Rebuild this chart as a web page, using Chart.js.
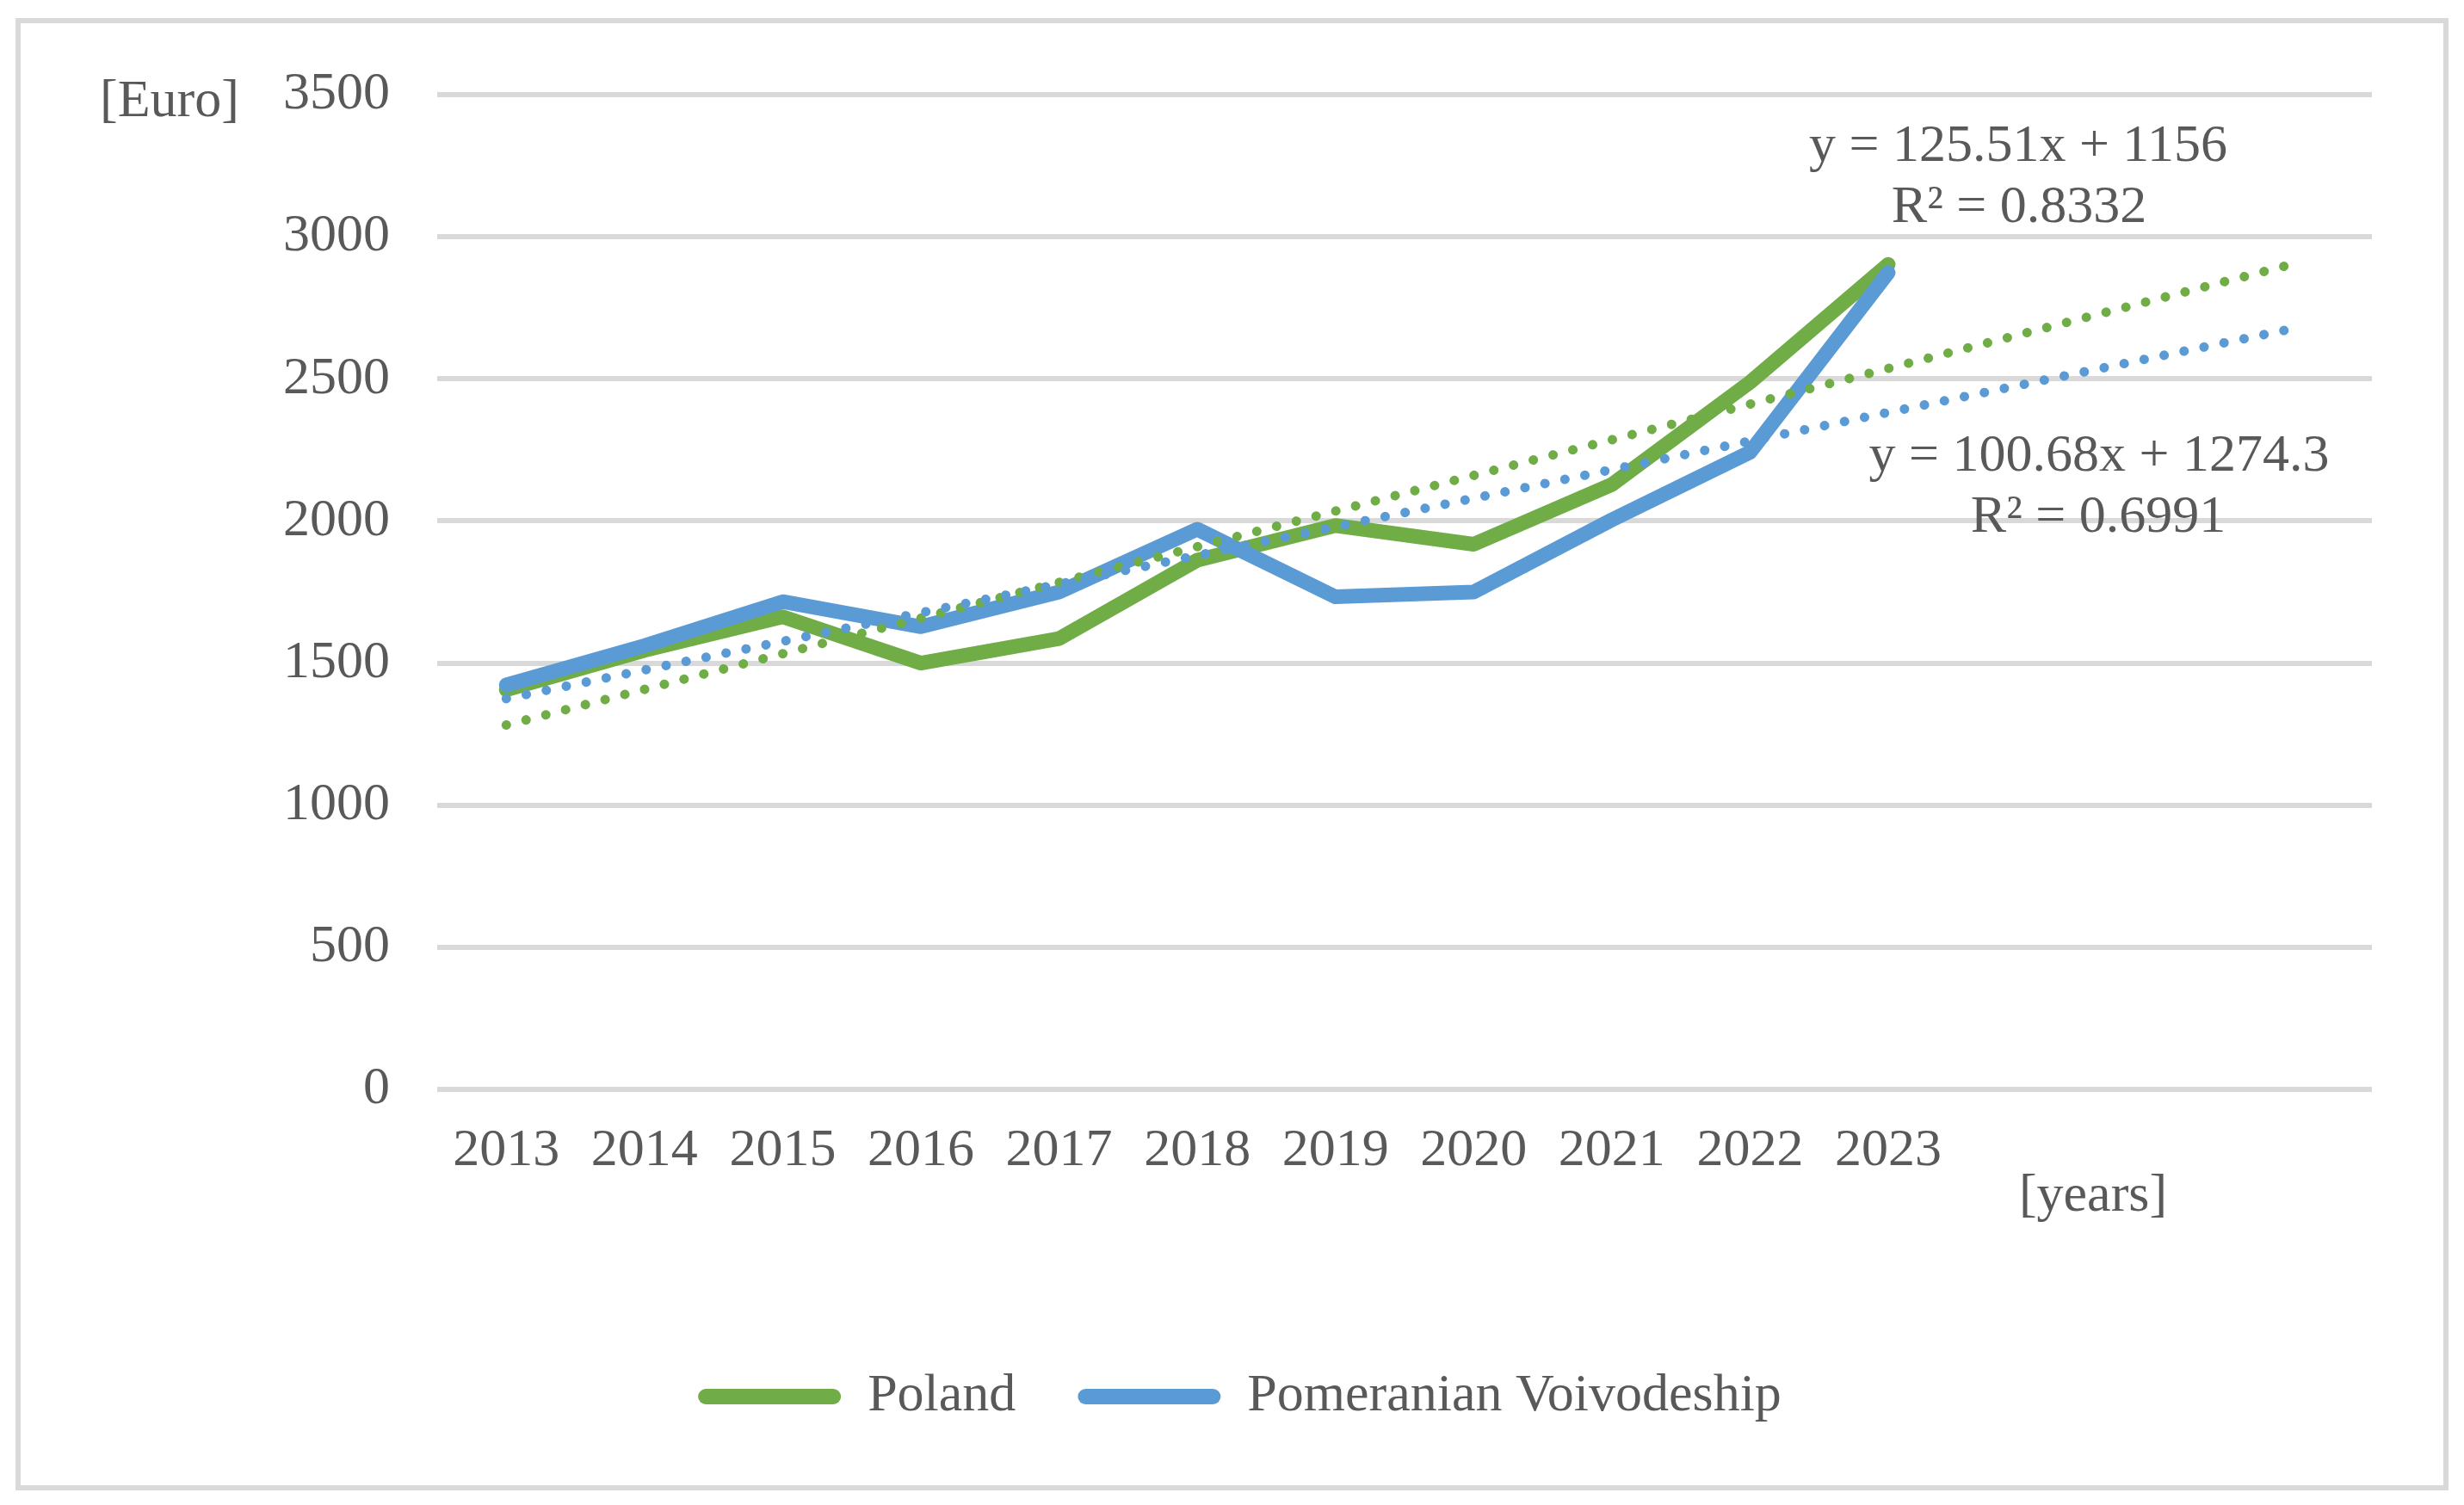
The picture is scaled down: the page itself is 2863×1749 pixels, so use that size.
<!DOCTYPE html>
<html>
<head>
<meta charset="utf-8">
<style>
  html, body { margin: 0; padding: 0; background: #ffffff; }
  #wrap { position: relative; width: 2863px; height: 1749px; }
</style>
<script src="https://cdn.jsdelivr.net/npm/chart.js@4.4.1/dist/chart.umd.min.js"></script>
</head>
<body>
<div id="wrap"><canvas id="c"></canvas></div>
<script>
// ---- data ----
const years = ['2013','2014','2015','2016','2017','2018','2019','2020','2021','2022','2023','','',''];
const poland =      [1406, 1545, 1663, 1500, 1586, 1862, 1984, 1918, 2128, 2488, 2903];
const pomeranian =  [1423, 1561, 1716, 1628, 1750, 1971, 1733, 1750, 2004, 2242, 2874];
// linear trendlines (Excel, forecast forward 3 periods): start and end values
const trendPoland =     [1282, null, null, null, null, null, null, null, null, null, null, null, null, 2913];
const trendPomeranian = [1375, null, null, null, null, null, null, null, null, null, null, null, null, 2684];
const seriesNames = ['Poland', 'Pomeranian Voivodeship'];
const eqPoland = ['y = 125.51x + 1156', 'R\u00B2 = 0.8332'];
const eqPomeranian = ['y = 100.68x + 1274.3', 'R\u00B2 = 0.6991'];
const yTitle = '[Euro]';
const xTitle = '[years]';

const GREEN = '#70ad47';
const BLUE = '#5b9bd5';
const TEXT = '#595959';
const GRID = '#d9d9d9';
const FONT = 'Liberation Serif';

const annotations = {
  id: 'annotations',
  beforeDraw(chart) {
    const ctx = chart.ctx;
    ctx.save();
    ctx.fillStyle = '#ffffff';
    ctx.fillRect(0, 0, chart.width, chart.height);
    ctx.strokeStyle = GRID;
    ctx.lineWidth = 6;
    ctx.strokeRect(21, 24, 2821, 1705);
    ctx.restore();
  },
  afterDraw(chart) {
    const ctx = chart.ctx;
    ctx.save();
    ctx.fillStyle = TEXT;
    ctx.font = '62px "' + FONT + '"';
    ctx.textAlign = 'center';
    ctx.textBaseline = 'middle';
    ctx.fillText(yTitle, 197, 119);
    ctx.fillText(xTitle, 2432, 1391);
    ctx.fillText(eqPoland[0], 2345, 171);
    ctx.fillText(eqPoland[1], 2346, 242);
    ctx.fillText(eqPomeranian[0], 2439, 531);
    ctx.fillText(eqPomeranian[1], 2438, 602);
    ctx.restore();
  }
};

const ctx = document.getElementById('c');
new Chart(ctx, {
  type: 'line',
  data: {
    labels: years,
    datasets: [
      { label: seriesNames[0], data: poland, borderColor: GREEN, backgroundColor: GREEN,
        borderWidth: 17, pointRadius: 0, tension: 0, borderCapStyle: 'round', borderJoinStyle: 'round', order: 3 },
      { label: seriesNames[1], data: pomeranian, borderColor: BLUE, backgroundColor: BLUE,
        borderWidth: 17, pointRadius: 0, tension: 0, borderCapStyle: 'round', borderJoinStyle: 'round', order: 2 },
      { label: 'Linear (Poland)', data: trendPoland, borderColor: GREEN, backgroundColor: GREEN,
        borderWidth: 11, borderDash: [0.1, 23.6], borderCapStyle: 'round', pointRadius: 0, spanGaps: true, order: 1 },
      { label: 'Linear (Pomeranian Voivodeship)', data: trendPomeranian, borderColor: BLUE, backgroundColor: BLUE,
        borderWidth: 11, borderDash: [0.1, 23.6], borderCapStyle: 'round', pointRadius: 0, spanGaps: true, order: 0 }
    ]
  },
  options: {
    responsive: true,
    maintainAspectRatio: false,
    devicePixelRatio: 1,
    animation: false,
    layout: { padding: { left: 125, right: 107, top: 110, bottom: 85 } },
    scales: {
      x: {
        type: 'category',
        offset: true,
        grid: { display: false, drawTicks: false },
        border: { display: false },
        ticks: { color: TEXT, font: { family: FONT, size: 62 }, padding: 35, autoSkip: false, maxRotation: 0 },
        afterFit(s) { s.height = 254; }
      },
      y: {
        min: 0, max: 3500,
        ticks: { stepSize: 500, color: TEXT, font: { family: FONT, size: 62 }, padding: 55,
                 callback: (v) => String(v) },
        grid: { color: GRID, lineWidth: 6, drawTicks: false },
        border: { display: false },
        afterFit(s) { s.width = 383; }
      }
    },
    plugins: {
      tooltip: { enabled: false },
      legend: {
        position: 'bottom',
        labels: {
          color: TEXT,
          font: { family: FONT, size: 62 },
          boxWidth: 166,
          boxHeight: 18,
          padding: 72,
          useBorderRadius: true,
          borderRadius: 9,
          filter: (item) => item.datasetIndex < 2,
          sort: (a, b) => a.datasetIndex - b.datasetIndex,
          generateLabels(chart) {
            const items = Chart.defaults.plugins.legend.labels.generateLabels(chart);
            items.forEach(it => { it.lineWidth = 0; });
            return items;
          }
        }
      }
    }
  },
  plugins: [annotations]
});
</script>
</body>
</html>
